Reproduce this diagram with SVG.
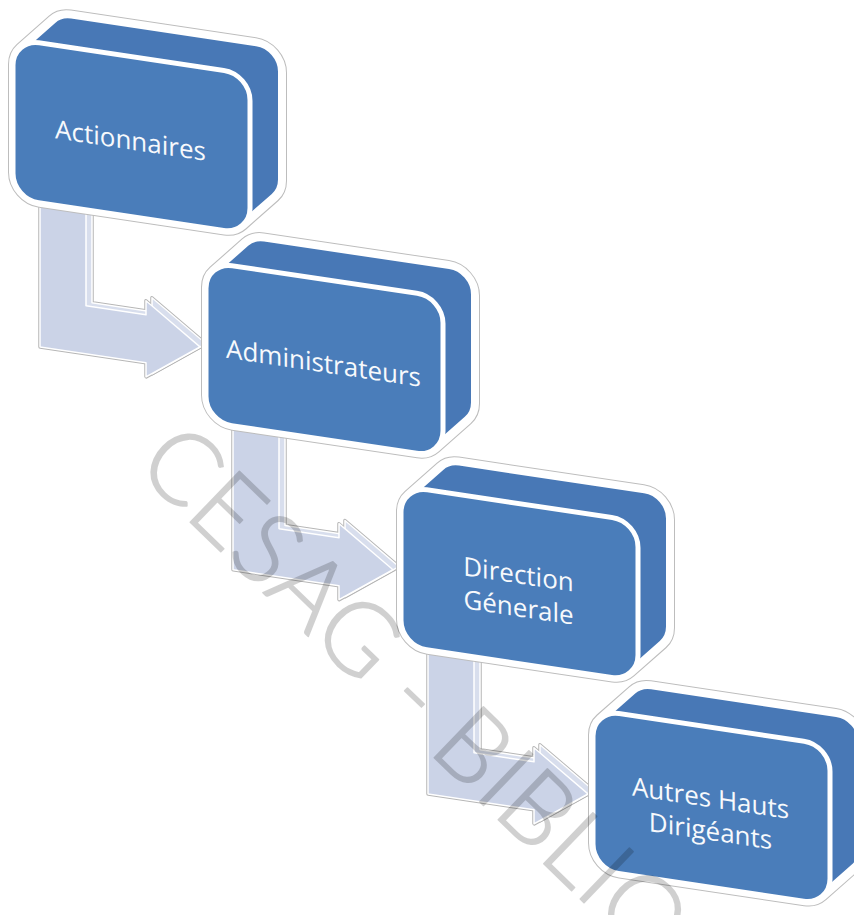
<svg xmlns="http://www.w3.org/2000/svg" xmlns:xlink="http://www.w3.org/1999/xlink" width="854" height="915" viewBox="0 0 854 915">
  <style>
    .halo { fill: none; stroke: #bdbdbd; stroke-width: 10; stroke-linejoin: round; }
    .body { fill: #4878b6; stroke: #ffffff; stroke-width: 8; stroke-linejoin: round; }
    .face { fill: #4a7dba; stroke: #ffffff; stroke-width: 5; }
    .label { font-family: "Open Sans", "Liberation Sans", sans-serif; font-size: 26px; fill: #f7f9fc; text-anchor: middle; }
    .a-edge { fill: none; stroke: #b6b6b6; stroke-width: 3.5; stroke-linejoin: round; }
    .a-back { fill: #d8deed; stroke: #ffffff; stroke-width: 1.5; stroke-linejoin: round; }
    .a-front { fill: #cbd3e7; stroke: #ffffff; stroke-width: 1.5; stroke-linejoin: round; }
    .mark { font-family: "Lato", "Liberation Sans", sans-serif; font-weight: 300; font-size: 100px; fill: #000000; stroke: #000000; stroke-width: 1.6; stroke-linejoin: round; }
  </style>
  <defs>
    <!-- extruded rounded box: silhouette of front face swept towards the back face -->
    <path id="boxShape" d="M52.34,11.9 A26,26 0 0 1 71,4 L256,4 A26,26 0 0 1 282,30 L282,138 A26,26 0 0 1 274.66,156.1 L242.66,189.1 A26,26 0 0 1 224,197 L39,197 A26,26 0 0 1 13,171 L13,63 A26,26 0 0 1 20.34,44.9 Z"/>
    <rect id="boxFace" x="13" y="37" width="237" height="160" rx="26" ry="26"/>
    <!-- bent arrow, front face and its raised back copy -->
    <path id="arrowFront" d="M40,150 L86,150 L86,293 L146,293 L146,279 L200,317 L146,355 L146,341 L40,341 Z"/>
    <path id="arrowBack" d="M46,146 L92,146 L92,289 L152,289 L152,275 L206,313 L152,351 L152,337 L46,337 Z"/>
  </defs>

  <g transform="skewY(8.5)">
    <g id="connectors">
      <g transform="translate(0,0)">
        <use xlink:href="#arrowBack" class="a-edge"/>
        <use xlink:href="#arrowFront" class="a-edge"/>
        <use xlink:href="#arrowBack" class="a-back"/>
        <use xlink:href="#arrowFront" class="a-front"/>
      </g>
      <g transform="translate(193,194)">
        <use xlink:href="#arrowBack" class="a-edge"/>
        <use xlink:href="#arrowFront" class="a-edge"/>
        <use xlink:href="#arrowBack" class="a-back"/>
        <use xlink:href="#arrowFront" class="a-front"/>
      </g>
      <g transform="translate(388,389)">
        <use xlink:href="#arrowBack" class="a-edge"/>
        <use xlink:href="#arrowFront" class="a-edge"/>
        <use xlink:href="#arrowBack" class="a-back"/>
        <use xlink:href="#arrowFront" class="a-front"/>
      </g>
    </g>

    <g id="actionnaires" transform="translate(0,0)">
      <use xlink:href="#boxShape" class="halo"/>
      <use xlink:href="#boxShape" class="body"/>
      <use xlink:href="#boxFace" class="face"/>
      <text class="label" x="130.5" y="130">Actionnaires</text>
    </g>

    <g id="administrateurs" transform="translate(193,194)">
      <use xlink:href="#boxShape" class="halo"/>
      <use xlink:href="#boxShape" class="body"/>
      <use xlink:href="#boxFace" class="face"/>
      <text class="label" x="130.5" y="130">Administrateurs</text>
    </g>

    <g id="direction-generale" transform="translate(388,389)">
      <use xlink:href="#boxShape" class="halo"/>
      <use xlink:href="#boxShape" class="body"/>
      <use xlink:href="#boxFace" class="face"/>
      <text class="label" x="130.5" y="117">Direction</text>
      <text class="label" x="130.5" y="150">Génerale</text>
    </g>

    <g id="autres-hauts-dirigeants" transform="translate(580,584)">
      <use xlink:href="#boxShape" class="halo"/>
      <use xlink:href="#boxShape" class="body"/>
      <use xlink:href="#boxFace" class="face"/>
      <text class="label" x="130.5" y="117">Autres Hauts</text>
      <text class="label" x="130.5" y="150">Dirigéants</text>
    </g>
  </g>

  <!-- diagonal library stamp across the page -->
  <g opacity="0.18">
    <text class="mark" transform="translate(134,468) rotate(44)">CESAG - BIBLIO</text>
  </g>
</svg>
